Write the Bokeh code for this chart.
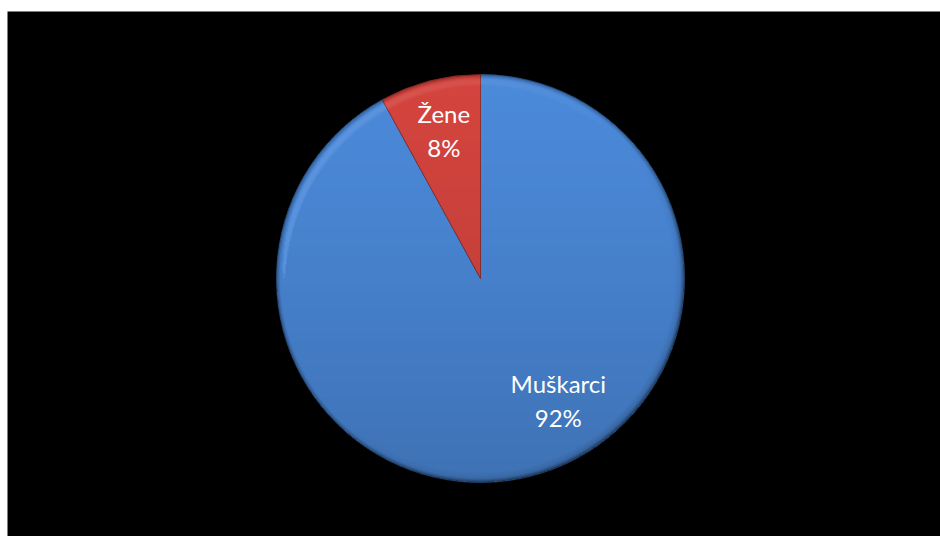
import math
import numpy as np
from bokeh.plotting import figure
from bokeh.models import ColumnDataSource
from bokeh.core.properties import value
from bokeh.embed import file_html
from bokeh.resources import INLINE

categories = ["Muškarci", "Žene"]
shares = [92, 8]

colors = ["#4b89d9", "#d4443e"]
edge_dark = ["#2c5791", "#8f2a25"]

W, H = 940, 536
left_pad, top_pad = 7, 11
cx, cy, R = 480, 258, 204
# label placement (angle in degrees, radius fraction) per slice
label_angle = [-57.5, 103.9]
label_rfrac = [0.71, 0.748]

p = figure(width=W, height=H, x_range=(left_pad, W), y_range=(0, H - top_pad),
           output_backend="svg", toolbar_location=None,
           min_border_left=left_pad, min_border_top=top_pad,
           min_border_right=0, min_border_bottom=0,
           background_fill_color="black", border_fill_color="white",
           outline_line_color=None)
p.axis.visible = False
p.grid.visible = False

total = sum(shares)
start = math.pi / 2
starts, ends = [], []
for s in shares:
    ang = 2 * math.pi * s / total
    ends.append(start)
    starts.append(start - ang)
    start -= ang

src = ColumnDataSource(dict(x=[cx] * 2, y=[cy] * 2, start=starts, end=ends,
                            color=colors, dark=edge_dark))

p.wedge(x="x", y="y", radius=R, start_angle="start", end_angle="end",
        fill_color="color", line_color="dark", line_width=1, line_alpha=0.8,
        source=src)

# shading overlay (vertical darkening + bevelled rim)
n = 2 * R + 2
ys, xs = np.mgrid[0:n, 0:n]
dx = xs + 0.5 - n / 2
dy = ys + 0.5 - n / 2          # dy > 0 is up (image rows go upward)
rr = np.hypot(dx, dy)
inside = rr <= R
t = (R - dy) / (2 * R)           # 0 at top, 1 at bottom
dark = 0.17 * np.clip(t, 0, 1) ** 1.3
d = R - rr                       # distance from rim
rim_dark = np.where(d < 4, 0.30 * (1 - d / 4), 0.0)
light_side = np.clip((-dx + dy) / (R * 1.4), 0, 1)  # upper-left
rim_light = np.where((d >= 3) & (d < 12), 0.10 * light_side * np.sin(np.pi * (d - 3) / 9), 0.0)
lower_right = np.clip((dx - dy) / (R * 1.4), 0, 1)
rim_dark = rim_dark + np.where(d < 10, 0.18 * lower_right * (1 - d / 10), 0.0)

a_dark = np.clip(dark + rim_dark, 0, 1)
img = np.zeros((n, n), dtype=np.uint32)
view = img.view(dtype=np.uint8).reshape((n, n, 4))
use_light = rim_light > a_dark
val = np.where(use_light, 255, 0).astype(np.uint8)
alpha = np.where(use_light, rim_light, a_dark)
alpha = np.where(inside, alpha, 0.0)
view[:, :, 0] = val
view[:, :, 1] = val
view[:, :, 2] = val
view[:, :, 3] = (alpha * 255).astype(np.uint8)
p.image_rgba(image=[img], x=cx - n / 2, y=cy - n / 2, dw=n, dh=n)

lx, ly1, ly2, names, pcts = [], [], [], [], []
for i, c in enumerate(categories):
    a = math.radians(label_angle[i])
    r = R * label_rfrac[i]
    lx.append(cx + r * math.cos(a))
    y = cy + r * math.sin(a)
    ly1.append(y + 17)
    ly2.append(y - 17)
    names.append(c)
    pcts.append(f"{shares[i]}%")

lsrc = ColumnDataSource(dict(x=lx, y1=ly1, y2=ly2, name=names, pct=pcts))
for ycol, tcol in (("y1", "name"), ("y2", "pct")):
    p.text(x="x", y=ycol, text=tcol, source=lsrc, text_color="white",
           text_font=value("Lato"), text_font_size="24px",
           text_align="center", text_baseline="middle")

open("out.html", "w").write(file_html(p, INLINE))
